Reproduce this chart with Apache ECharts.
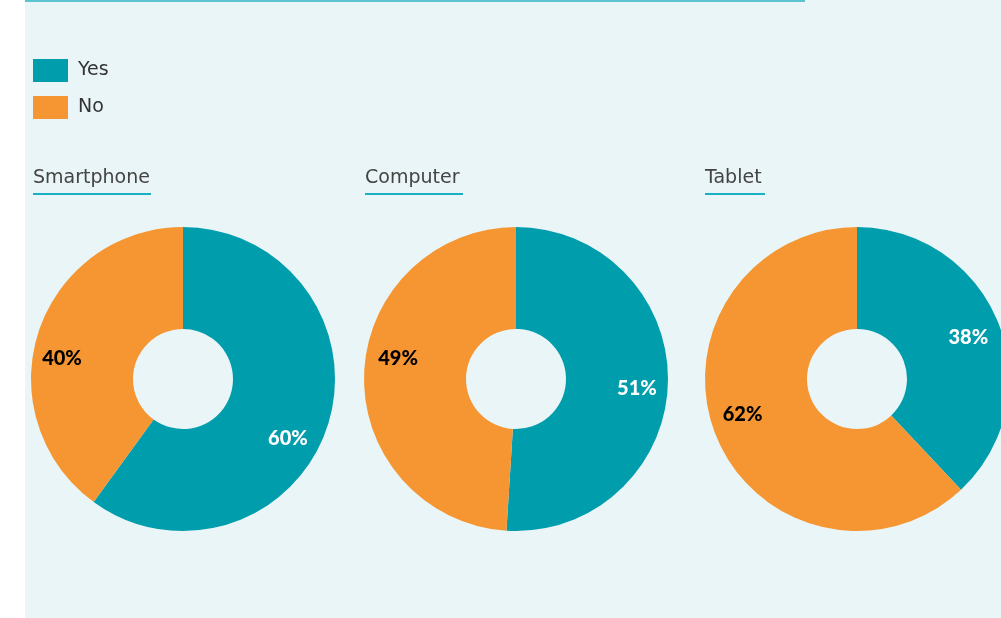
<!DOCTYPE html>
<html>
<head>
<meta charset="utf-8">
<script src="https://cdn.jsdelivr.net/npm/echarts@6/dist/echarts.min.js"></script>
<style>
html,body{margin:0;padding:0;background:#fff;}
#chart{width:1001px;height:618px;}
</style>
</head>
<body>
<div id="chart"></div>
<script>
const answers = ['Yes', 'No'];
const devices = ['Smartphone', 'Computer', 'Tablet'];
const yesValues = [60, 51, 38];
const noValues = [40, 49, 62];

const TEAL = '#009dad';
const ORANGE = '#f59633';
const centersX = [183, 516, 857];
const titleX = [33, 365, 705];
const titleW = [118, 98, 60];
const CY = 379;
// small label nudges (style only) to follow the reference's label placement
const yesLabelNudge = [[-12, 22], [-2, 6], [-3, 4]];
const noLabelNudge = [[-4, 18], [5, -17], [0, -10]];

const chart = echarts.init(document.getElementById('chart'), null, {renderer: 'canvas'});

const series = [];
devices.forEach((d, i) => {
  series.push({
    type: 'pie', name: d, center: [centersX[i], CY], radius: [50, 152],
    startAngle: 90, clockwise: true, avoidLabelOverlap: false,
    label: {show: false}, labelLine: {show: false},
    emphasis: {disabled: true}, silent: true,
    data: [
      {name: answers[0], value: yesValues[i], itemStyle: {color: TEAL}},
      {name: answers[1], value: noValues[i], itemStyle: {color: ORANGE}}
    ]
  });
  series.push({
    type: 'pie', name: d + ' labels', center: [centersX[i], CY], radius: [88, 152],
    startAngle: 90, clockwise: true, avoidLabelOverlap: false,
    itemStyle: {color: 'rgba(0,0,0,0)'},
    labelLine: {show: false}, emphasis: {disabled: true}, silent: true,
    label: {show: true, position: 'inside', formatter: '{c}%', fontFamily: 'Lato', fontWeight: 900, fontSize: 20},
    data: [
      {name: answers[0], value: yesValues[i], itemStyle: {color: 'rgba(0,0,0,0)'}, label: {color: '#ffffff', offset: yesLabelNudge[i]}},
      {name: answers[1], value: noValues[i], itemStyle: {color: 'rgba(0,0,0,0)'}, label: {color: '#000000', offset: noLabelNudge[i]}}
    ]
  });
});

const graphics = [
  {type: 'rect', z: -10, silent: true, shape: {x: 25, y: 0, width: 976, height: 618}, style: {fill: '#e9f5f7'}},
  {type: 'rect', z: -5, silent: true, shape: {x: 25, y: 0, width: 780, height: 2}, style: {fill: '#5bc4d0'}}
];
devices.forEach((d, i) => {
  graphics.push({type: 'text', silent: true, x: titleX[i], y: 178,
    style: {text: d, fill: '#444', font: '19px "DejaVu Sans"', textVerticalAlign: 'middle', textAlign: 'left'}});
  graphics.push({type: 'rect', silent: true, shape: {x: titleX[i], y: 193, width: titleW[i], height: 2},
    style: {fill: '#1ab0c4'}});
});

chart.setOption({
  animation: false,
  backgroundColor: '#ffffff',
  color: [TEAL, ORANGE],
  legend: {
    data: answers, orient: 'vertical', left: 33, top: 59, padding: 0,
    itemWidth: 35, itemHeight: 23, itemGap: 14, icon: 'rect',
    textStyle: {fontFamily: 'DejaVu Sans', fontSize: 19, color: '#333', padding: [0, 0, 0, 5]},
    selectedMode: false
  },
  graphic: graphics,
  series: series
});
</script>
</body>
</html>
